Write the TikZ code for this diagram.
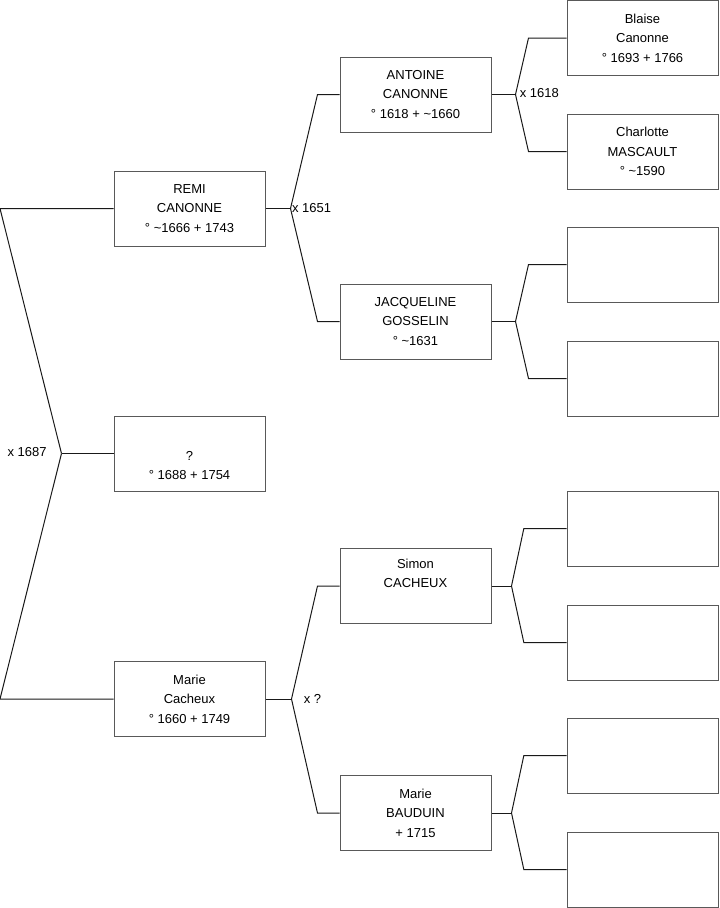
\documentclass[tikz,border=0pt]{standalone}
\usepackage{fontspec}
\setmainfont{Liberation Sans}
\usetikzlibrary{positioning}

\begin{document}
\begin{tikzpicture}[x=0.75pt, y=-0.75pt,
  person/.style={draw=black!65, line width=0.75pt, minimum width=113.25pt,
                 minimum height=56.25pt, inner sep=0pt, align=center,
                 font=\fontsize{9.75}{14.7}\selectfont},
  link/.style={line width=0.75pt, black!90},
  wed/.style={font=\fontsize{9.75}{11}\selectfont, inner sep=1pt}
]
  \useasboundingbox (0,0) rectangle (719,908);
  \coordinate (edge) at (0,0);

  % children and parents
  \node[person] (remi)    at (189.5,208.5) {REMI\\CANONNE\\° \textasciitilde1666 + 1743};
  \node[person] (unknown) at (189.5,453.5) {\strut\\?\\° 1688 + 1754};
  \node[person] (marie)   at (189.5,699)   {Marie\\Cacheux\\° 1660 + 1749};

  \node[person] (antoine)    at (415.5,94.5)  {ANTOINE\\CANONNE\\° 1618 + \textasciitilde1660};
  \node[person] (jacqueline) at (415.5,321.5) {JACQUELINE\\GOSSELIN\\° \textasciitilde1631};
  \node[person] (simon)      at (415.5,586)   {Simon\\CACHEUX\\\strut};
  \node[person] (bauduin)    at (415.5,813)   {Marie\\BAUDUIN\\+ 1715};

  % grandparents
  \node[person] (blaise)    at (642.5,38)    {Blaise\\Canonne\\° 1693 + 1766};
  \node[person] (charlotte) at (642.5,151.5) {Charlotte\\MASCAULT\\° \textasciitilde1590};
  \node[person] (empty1)    at (642.5,264.5) {};
  \node[person] (empty2)    at (642.5,378.5) {};
  \node[person] (empty3)    at (642.5,528.5) {};
  \node[person] (empty4)    at (642.5,642.5) {};
  \node[person] (empty5)    at (642.5,755.5) {};
  \node[person] (empty6)    at (642.5,869.5) {};

  % unions
  \coordinate (u0) at ([xshift=-39pt]unknown.west);
  \draw[link] (unknown.west) -- (u0);
  \draw[link] (u0) -- (remi.west -| edge) -- (remi.west);
  \draw[link] (u0) -- (marie.west -| edge) -- (marie.west);
  \node[wed, left=10pt] (w0) at ([yshift=1pt]u0) {x 1687};

  \coordinate (u1) at ([xshift=18.75pt]remi.east);
  \draw[link] (remi.east) -- (u1);
  \draw[link] (u1) -- ([xshift=-16.5pt]antoine.west) -- (antoine.west);
  \draw[link] (u1) -- ([xshift=-16.5pt]jacqueline.west) -- (jacqueline.west);
  \node[wed, right=0pt] (w1) at ([yshift=0.5pt]u1) {x 1651};

  \coordinate (u2) at ([xshift=19.5pt]marie.east);
  \draw[link] (marie.east) -- (u2);
  \draw[link] (u2) -- ([xshift=-16.5pt]simon.west) -- (simon.west);
  \draw[link] (u2) -- ([xshift=-16.5pt]bauduin.west) -- (bauduin.west);
  \node[wed, right=8pt] (w2) at (u2) {x ?};

  \coordinate (u3) at ([xshift=18pt]antoine.east);
  \draw[link] (antoine.east) -- (u3);
  \draw[link] (u3) -- ([xshift=-28.5pt]blaise.west) -- (blaise.west);
  \draw[link] (u3) -- ([xshift=-28.5pt]charlotte.west) -- (charlotte.west);
  \node[wed, right=2pt] (w3) at ([yshift=1pt]u3) {x 1618};

  \coordinate (u4) at ([xshift=18pt]jacqueline.east);
  \draw[link] (jacqueline.east) -- (u4);
  \draw[link] (u4) -- ([xshift=-28.5pt]empty1.west) -- (empty1.west);
  \draw[link] (u4) -- ([xshift=-28.5pt]empty2.west) -- (empty2.west);

  \coordinate (u5) at ([xshift=15pt]simon.east);
  \draw[link] (simon.east) -- (u5);
  \draw[link] (u5) -- ([xshift=-32pt]empty3.west) -- (empty3.west);
  \draw[link] (u5) -- ([xshift=-32pt]empty4.west) -- (empty4.west);

  \coordinate (u6) at ([xshift=15pt]bauduin.east);
  \draw[link] (bauduin.east) -- (u6);
  \draw[link] (u6) -- ([xshift=-32pt]empty5.west) -- (empty5.west);
  \draw[link] (u6) -- ([xshift=-32pt]empty6.west) -- (empty6.west);
\end{tikzpicture}
\end{document}
